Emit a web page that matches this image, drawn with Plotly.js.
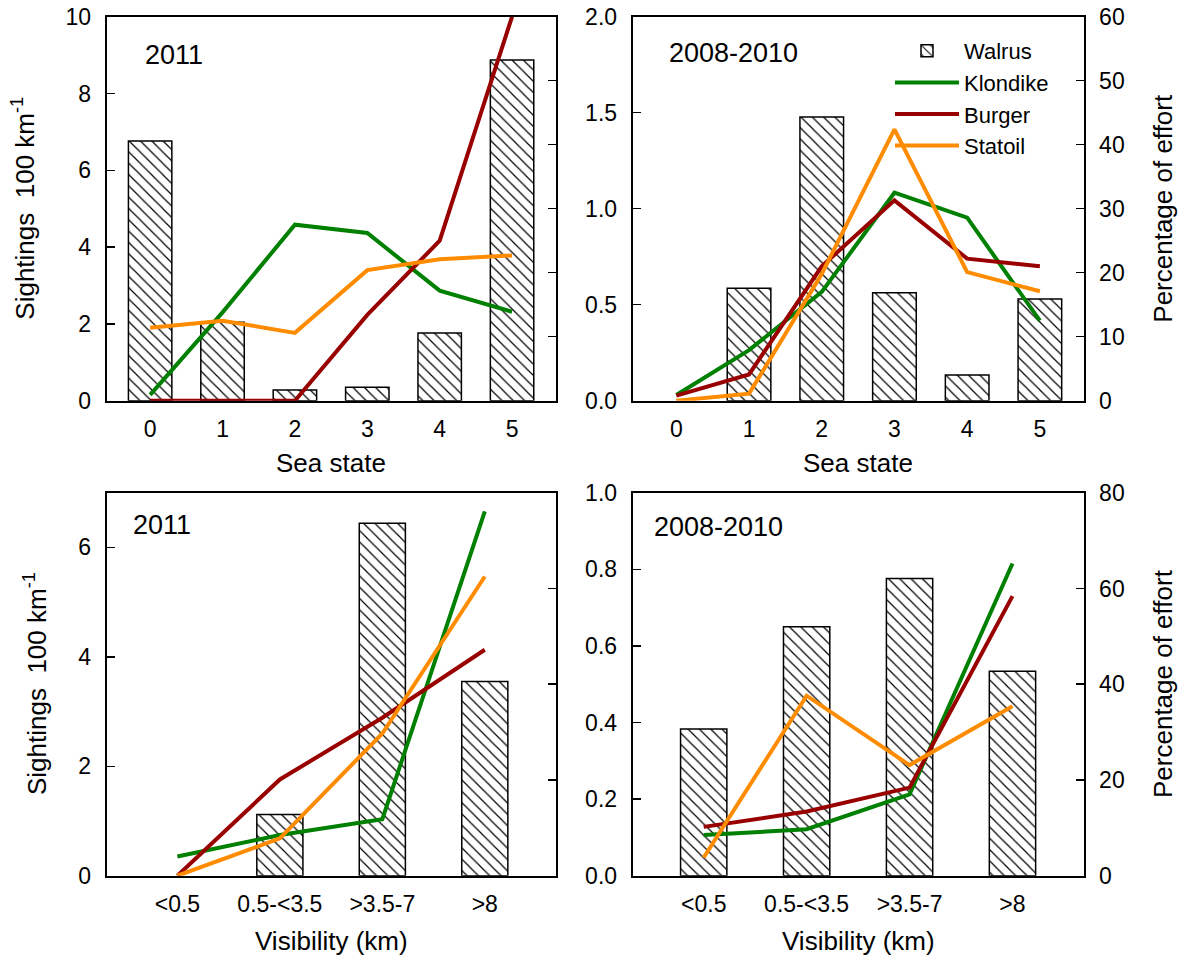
<!DOCTYPE html>
<html>
<head>
<meta charset="utf-8">
<script src="https://cdn.plot.ly/plotly-3.0.1.min.js"></script>
<style>html,body{margin:0;padding:0;background:#fff;}#chart{width:1182px;height:959px;}</style>
</head>
<body>
<div id="chart"></div>
<script>
// ---------- data ----------
const seaStates = ['0', '1', '2', '3', '4', '5'];
const visLabels = ['<0.5', '0.5-<3.5', '>3.5-7', '>8'];
const seriesNames = ['Walrus', 'Klondike', 'Burger', 'Statoil'];

// Sea state, 2011
const walrusSea2011   = [6.76, 2.04, 0.28, 0.35, 1.76, 8.87];
const klondikeSea2011 = [0.9, 13.8, 27.5, 26.2, 17.2, 13.9];
const burgerSea2011   = [0, 0, 0, 13.4, 25.0, 60];
const statoilSea2011  = [11.4, 12.5, 10.6, 20.4, 22.1, 22.7];

// Sea state, 2008-2010
const walrusSea0810   = [0, 0.586, 1.478, 0.562, 0.134, 0.530];
const klondikeSea0810 = [0.9, 7.9, 17.0, 32.5, 28.6, 12.5];
const burgerSea0810   = [0.8, 4.1, 21.0, 31.3, 22.2, 21.0];
const statoilSea0810  = [0, 1.1, 19.8, 42.4, 20.1, 17.1];

// Visibility, 2011
const walrusVis2011   = [0, 1.12, 6.44, 3.55];
const klondikeVis2011 = [4.0, 8.5, 11.8, 76.1];
const burgerVis2011   = [0, 20.1, 33.0, 47.2];
const statoilVis2011  = [0, 7.8, 29.7, 62.5];

// Visibility, 2008-2010
const walrusVis0810   = [0.383, 0.650, 0.776, 0.534];
const klondikeVis0810 = [8.5, 9.7, 17.0, 65.2];
const burgerVis0810   = [10.2, 13.4, 18.4, 58.4];
const statoilVis0810  = [3.8, 37.6, 23.1, 35.4];

// ---------- styling ----------
const FONT = '"Liberation Sans", Arial, Helvetica, sans-serif';
const lineColors = {Klondike: '#008000', Burger: '#990000', Statoil: '#ff8c00'};
const W = 1182, H = 959;

function esc(s) { return s.replace(/&/g, '&amp;').replace(/</g, '&lt;').replace(/>/g, '&gt;'); }

const panels = [
  {cats: seaStates, walrus: walrusSea2011, k: klondikeSea2011, b: burgerSea2011, s: statoilSea2011,
   xa: 'x', yl: 'y', yr: 'y2', barw: 0.6, legend: false},
  {cats: seaStates, walrus: walrusSea0810, k: klondikeSea0810, b: burgerSea0810, s: statoilSea0810,
   xa: 'x2', yl: 'y3', yr: 'y4', barw: 0.6, legend: true},
  {cats: visLabels, walrus: walrusVis2011, k: klondikeVis2011, b: burgerVis2011, s: statoilVis2011,
   xa: 'x3', yl: 'y5', yr: 'y6', barw: 0.45, legend: false},
  {cats: visLabels, walrus: walrusVis0810, k: klondikeVis0810, b: burgerVis0810, s: statoilVis0810,
   xa: 'x4', yl: 'y7', yr: 'y8', barw: 0.45, legend: false}
];

const traces = [];
panels.forEach(p => {
  const idx = p.cats.map((_, i) => i);
  traces.push({
    type: 'bar', name: seriesNames[0], showlegend: p.legend,
    // zero-valued classes have no bar in the reference
    x: idx, y: p.walrus.map(v => (v > 0 ? v : null)), xaxis: p.xa, yaxis: p.yl, width: p.barw,
    marker: {color: '#ffffff', line: {color: '#000', width: 1.5},
             pattern: {shape: '\\', fgcolor: '#000', bgcolor: '#ffffff', size: 8, solidity: 0.15}},
    hoverinfo: 'y'
  });
  [['Klondike', p.k], ['Burger', p.b], ['Statoil', p.s]].forEach(([nm, vals]) => {
    traces.push({
      type: 'scatter', mode: 'lines', name: nm, showlegend: p.legend,
      x: idx, y: vals, xaxis: p.xa, yaxis: p.yr, cliponaxis: false,
      line: {color: lineColors[nm], width: 4}
    });
  });
});

const tickFont = {family: FONT, size: 23, color: '#000'};
function xAx(domain, anchor, cats, range) {
  return {domain: domain, anchor: anchor, range: range, type: 'linear',
          tickvals: cats.map((_, i) => i), ticktext: cats.map(esc),
          ticks: '', showline: true, mirror: true, linecolor: '#000', linewidth: 2,
          showgrid: false, zeroline: false, tickfont: tickFont, ticklabelstandoff: 7, fixedrange: true};
}
function yLeft(domain, anchor, range, dtick, fmt) {
  return {domain: domain, anchor: anchor, range: range, dtick: dtick, tick0: 0, tickformat: fmt,
          ticks: 'inside', ticklen: 8, tickwidth: 1.5, tickcolor: '#000',
          showline: true, linecolor: '#000', linewidth: 2, showgrid: false, zeroline: false,
          tickfont: tickFont, ticklabelstandoff: 9, fixedrange: true};
}
function yRight(over, anchor, range, dtick, labels) {
  return {overlaying: over, anchor: anchor, side: 'right', range: range, dtick: dtick, tick0: 0,
          ticks: 'inside', ticklen: 8, tickwidth: 1.5, tickcolor: '#000',
          showline: true, linecolor: '#000', linewidth: 2, showgrid: false, zeroline: false,
          showticklabels: labels, tickfont: tickFont, ticklabelstandoff: 9, fixedrange: true};
}

const topY = [1 - 400.7 / H, 1 - 16.7 / H];
const botY = [1 - 875.7 / H, 1 - 492.7 / H];
const leftX = [106.7 / W, 555.5 / W];
const rightX = [632.7 / W, 1083.5 / W];

const yearFont = {family: FONT, size: 27, color: '#000'};
const titleFont = {family: FONT, size: 26, color: '#000'};

const annotations = [
  {text: '2011', xref: 'x domain', yref: 'y domain', x: 0.081, y: 0.90, xanchor: 'left', yanchor: 'middle', showarrow: false, font: yearFont},
  {text: '2008-2010', xref: 'x2 domain', yref: 'y3 domain', x: 0.077, y: 0.905, xanchor: 'left', yanchor: 'middle', showarrow: false, font: yearFont},
  {text: '2011', xref: 'x3 domain', yref: 'y5 domain', x: 0.055, y: 0.915, xanchor: 'left', yanchor: 'middle', showarrow: false, font: yearFont},
  {text: '2008-2010', xref: 'x4 domain', yref: 'y7 domain', x: 0.043, y: 0.91, xanchor: 'left', yanchor: 'middle', showarrow: false, font: yearFont},
  {text: 'Sea state', xref: 'x domain', yref: 'paper', x: 0.5, y: 1 - 463 / H, xanchor: 'center', yanchor: 'middle', showarrow: false, font: titleFont},
  {text: 'Sea state', xref: 'x2 domain', yref: 'paper', x: 0.5, y: 1 - 463 / H, xanchor: 'center', yanchor: 'middle', showarrow: false, font: titleFont},
  {text: 'Visibility (km)', xref: 'x3 domain', yref: 'paper', x: 0.5, y: 1 - 941 / H, xanchor: 'center', yanchor: 'middle', showarrow: false, font: titleFont},
  {text: 'Visibility (km)', xref: 'x4 domain', yref: 'paper', x: 0.5, y: 1 - 941 / H, xanchor: 'center', yanchor: 'middle', showarrow: false, font: titleFont},
  {text: 'Sightings  100 km<sup>-1</sup>', xref: 'paper', yref: 'paper', x: 24 / W, y: 1 - 208.7 / H, textangle: -90, xanchor: 'center', yanchor: 'middle', showarrow: false, font: titleFont},
  {text: 'Sightings  100 km<sup>-1</sup>', xref: 'paper', yref: 'paper', x: 35 / W, y: 1 - 684 / H, textangle: -90, xanchor: 'center', yanchor: 'middle', showarrow: false, font: titleFont},
  {text: 'Percentage of effort', xref: 'paper', yref: 'paper', x: 1163 / W, y: 1 - 208.7 / H, textangle: -90, xanchor: 'center', yanchor: 'middle', showarrow: false, font: titleFont},
  {text: 'Percentage of effort', xref: 'paper', yref: 'paper', x: 1163 / W, y: 1 - 684 / H, textangle: -90, xanchor: 'center', yanchor: 'middle', showarrow: false, font: titleFont}
];

const layout = {
  width: W, height: H,
  margin: {l: 0, r: 0, t: 0, b: 0},
  paper_bgcolor: '#fff', plot_bgcolor: 'rgba(0,0,0,0)',
  font: {family: FONT, color: '#000'},
  barmode: 'overlay',
  showlegend: true,
  legend: {x: 890 / W, y: 1 - 30 / H, xanchor: 'left', yanchor: 'top',
           bgcolor: 'rgba(0,0,0,0)', borderwidth: 0, itemwidth: 64, tracegroupgap: 0,
           font: {family: FONT, size: 22, color: '#000'}, traceorder: 'normal'},
  xaxis:  xAx(leftX, 'y', seaStates, [-0.6, 5.6]),
  yaxis:  yLeft(topY, 'x', [0, 10], 2, ''),
  yaxis2: yRight('y', 'x', [0, 60], 10, false),
  xaxis2: xAx(rightX, 'y3', seaStates, [-0.6, 5.6]),
  yaxis3: yLeft(topY, 'x2', [0, 2], 0.5, '.1f'),
  yaxis4: yRight('y3', 'x2', [0, 60], 10, true),
  xaxis3: xAx(leftX, 'y5', visLabels, [-0.69, 3.69]),
  yaxis5: yLeft(botY, 'x3', [0, 7], 2, ''),
  yaxis6: yRight('y5', 'x3', [0, 80], 20, false),
  xaxis4: xAx(rightX, 'y7', visLabels, [-0.69, 3.69]),
  yaxis7: yLeft(botY, 'x4', [0, 1], 0.2, '.1f'),
  yaxis8: yRight('y7', 'x4', [0, 80], 20, true),
  annotations: annotations
};

Plotly.newPlot('chart', traces, layout, {displayModeBar: false, staticPlot: true});
</script>
</body>
</html>
